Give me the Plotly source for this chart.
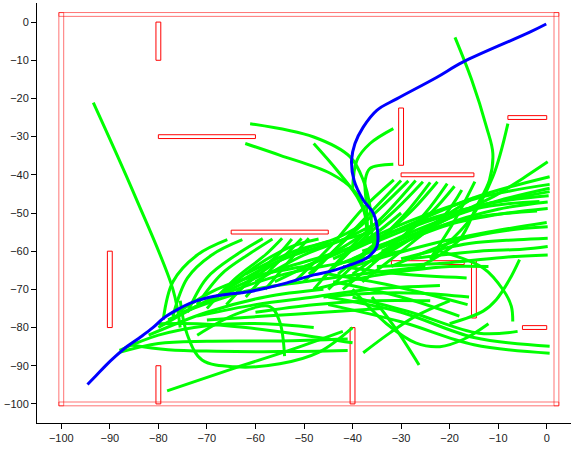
import plotly.graph_objects as go

# ---------------- obstacles (rectangles) ----------------
obs_x0 = [-100.5, -100.5, -100.5, 1.5, -80.5, -80, -90.5, -80.5, -65, -40.5, -30.5, -30, -8, -32, -15.5, -5]
obs_x1 = [2.5, -99.5, 2.5, 2.5, -79.5, -60, -89.5, -79.5, -45, -39.5, -29.5, -15, 0, -17, -14.5, 0]
obs_y0 = [1.5, -100.5, -100.5, -100.5, -10, -30.5, -80, -100, -55.5, -100, -37.5, -40.5, -25.5, -63.5, -77.5, -80.5]
obs_y1 = [2.5, 2.5, -99.5, 2.5, 0, -29.5, -60, -90, -54.5, -80, -22.5, -39.5, -24.5, -62.5, -62.5, -79.5]
obs_is_wall = [True, True, True, True] + [False] * 12

# ---------------- blue path ----------------
path_x = [-94.6, -92.9, -90.8, -88.8, -86.4, -83.6, -81.2, -78.9, -76.1, -73.4, -69.9, -66.5,
          -61.7, -57.6, -53.5, -48.0, -44.6, -40.5, -37.1, -35.0, -34.8, -35.7, -37.8, -39.7,
          -40.2, -39.5, -37.8, -35.0, -30.9, -22.7, -17.3, -3.6, -0.1]
path_y = [-94.9, -92.7, -89.9, -87.5, -84.9, -82.4, -80.1, -77.5, -75.3, -73.6, -72.2, -71.4,
          -70.7, -69.6, -68.3, -66.2, -65.3, -63.6, -61.8, -58.8, -55.3, -50.1, -46.6, -41.4,
          -36.2, -31.8, -27.5, -23.1, -20.1, -14.5, -10.5, -2.7, -0.5]

# ---------------- green tree branches ----------------
green_x = [
    [-93.4, -85, -77, -75.5],
    [-78.2, -64, -52, -42],
    [-88, -80, -70, -55, -41],
    [-86, -78, -68, -55, -41],
    [-75.5, -74, -71, -64, -55, -47, -40],
    [-72, -64, -57, -55, -54],
    [-80, -72, -62, -50, -40],
    [-76, -68, -60, -50],
    [-79, -77, -72, -65.8],
    [-77, -74, -69, -62.7],
    [-74, -70, -64, -58.5],
    [-72, -67, -61, -56.5],
    [-70, -64, -58, -54.5],
    [-66, -60, -55, -52.5],
    [-62, -57, -53, -50.5],
    [-58, -54, -51, -49],
    [-68, -60, -53, -47],
    [-64, -57, -50, -45],
    [-52, -44, -38, -31.5],
    [-50, -42, -36, -30],
    [-49, -41, -34.5, -28.5],
    [-48, -40, -33, -27],
    [-46, -38, -31, -25.5],
    [-45, -36, -29, -24],
    [-43, -34, -27.5, -22.5],
    [-42, -32, -25, -20.5],
    [-40, -30, -23.5, -19],
    [-38, -28, -21, -17.5],
    [-36, -27, -20, -15],
    [-24, -19, -14.8],
    [-26, -18, -14.5, -11.8, -11.1, -12.4, -15.5, -18.9],
    [-24, -16, -11.1, -8.0],
    [-36, -36.4, -37.8, -40.5, -48, -61.1],
    [-37, -37.8, -39.8, -44.6, -54.9, -62.1],
    [-37, -37.1, -39.1, -43.2, -48.0],
    [-40, -39.1, -36.4, -31.6],
    [-37, -37.1, -37.4, -36.4, -31.6],
    [-30, -18, -11, -5, 0.2],
    [-44, -30, -15, 0.6],
    [-42, -28, -14, 0.6],
    [-40, -26, -12, 0.6],
    [-38, -24, -10, 0.6],
    [-36, -22, -10, 0.2],
    [-34, -20, -8, 0.2],
    [-32, -18, -8, 0.2],
    [-30, -16, -6, 0.2],
    [-28, -14, -5, 0.2],
    [-44, -30, -15, -1.5],
    [-40, -25, -12, 0],
    [-45, -30, -15, 0.6],
    [-45, -30, -15, 0.6],
    [-40, -33, -27, -22, -17, -12],
    [-36, -31, -26.3],
    [-37.8, -32.3, -27, -20],
    [-45, -32, -16.3],
    [-44, -30, -18],
    [-42, -30, -16.5],
    [-40, -28, -14, -6],
    [-88, -80, -70, -58, -48],
    [-35, -20, -8, 0.2],
    [-80, -70, -58, -45, -35],
    [-78, -66, -54, -42, -30],
    [-75, -62, -50, -38, -25],
    [-72, -60, -48, -36, -22],
    [-70, -58, -46, -34],
    [-82, -70, -58, -46],
    [-66, -56, -46, -36],
    [-60, -50, -42, -34],
    [-22, -13.1, -9.0, -7.3, -7.0],
    [-20, -13.1, -10.4, -7.7, -5.6],
    [-62, -52, -44, -38],
    [-56, -48, -42, -36],
    [-50, -42, -36, -30],
    [-48, -38, -28, -20, -12],
    [-46, -36, -26, -16],
    [-38, -26, -14, -2],
    [-36, -24, -12, 0.4],
    [-60, -48, -36, -24],
]
green_y = [
    [-21.1, -45, -70, -80],
    [-96.6, -90.5, -85.5, -81],
    [-86.5, -84.2, -83.6, -83.5, -83],
    [-84.5, -85.8, -86.2, -86.3, -86],
    [-73, -82, -88.5, -90.3, -89.5, -86.5, -80],
    [-82, -76.5, -74.5, -78.5, -87.5],
    [-79, -79, -80, -82, -84],
    [-76, -70, -66.5, -64],
    [-78, -68, -61, -57],
    [-77, -67, -61, -57],
    [-76, -67, -61, -56.7],
    [-74, -66, -60.5, -56.8],
    [-75, -67, -61, -56.6],
    [-74, -66, -60.5, -56.8],
    [-72, -65, -60, -56.7],
    [-70, -64, -59.5, -56.6],
    [-72, -64, -59, -56.8],
    [-71, -64, -59.5, -57.5],
    [-68, -58, -49, -41.3],
    [-68, -57.5, -49.5, -41.5],
    [-66, -56.5, -49, -41.6],
    [-70, -58.5, -50, -41.5],
    [-67, -57, -49, -41.8],
    [-70, -59, -50, -42],
    [-66, -56.5, -49, -41.8],
    [-70, -59, -50, -42.3],
    [-66, -56.5, -49.5, -43],
    [-68, -58, -50.5, -44],
    [-63, -56, -50, -46],
    [-62, -52, -41.8],
    [-64, -57, -48.4, -41.4, -34.4, -27.5, -15, -4.0],
    [-62, -52, -40.5, -26.6],
    [-56, -48.4, -41.4, -35.3, -30.1, -26.6],
    [-56, -48.4, -44.0, -39.6, -34.9, -31.8],
    [-57, -51.8, -45.7, -38.8, -31.8],
    [-44, -36.2, -31.8, -27.9],
    [-56, -48.4, -41.4, -38.3, -37.2],
    [-58, -50, -45.7, -41, -36.6],
    [-62, -54, -46, -40.5],
    [-60, -52, -46, -42.5],
    [-62, -54, -47.5, -43.5],
    [-58, -51.5, -47, -44.4],
    [-62, -53.5, -49, -47.1],
    [-60, -53, -50, -48.8],
    [-64, -57, -54.5, -53.6],
    [-62, -58, -57, -56.6],
    [-62, -60, -59.5, -58.8],
    [-64, -57, -49, -47],
    [-64, -58.5, -55, -52.5],
    [-72, -76, -82.6, -84.9],
    [-74, -78.5, -84.5, -86.7],
    [-70, -79, -84, -85, -83, -79],
    [-72, -80.5, -89.8],
    [-86.6, -81.4, -77, -73],
    [-66, -69, -74],
    [-68, -72, -77],
    [-64, -66, -67],
    [-72, -76, -81.5, -81],
    [-86, -82, -79.5, -79, -80],
    [-64, -63, -61.5, -61],
    [-80, -73, -66, -61, -57],
    [-78, -71, -66, -63, -60],
    [-76, -70.5, -68, -66, -64],
    [-77, -74, -72, -70, -69],
    [-78, -77, -76, -75],
    [-82, -76, -72, -70],
    [-70, -63, -58.5, -55],
    [-68, -61, -57, -52],
    [-60, -64.4, -70.1, -74.4, -78.4],
    [-79, -75.7, -72.7, -67.5, -62.2],
    [-66, -60, -57, -53],
    [-68, -63, -59, -54],
    [-64, -60, -56, -50],
    [-70, -67, -65, -64, -64],
    [-72, -71, -71, -72],
    [-60, -55, -51, -49.5],
    [-58, -52, -47.5, -45.5],
    [-76, -74, -73, -73],
]

x_ticks = [-100, -90, -80, -70, -60, -50, -40, -30, -20, -10, 0]
y_ticks = [0, -10, -20, -30, -40, -50, -60, -70, -80, -90, -100]

fig = go.Figure()

# obstacles
for x0, x1, y0, y1, wall in zip(obs_x0, obs_x1, obs_y0, obs_y1, obs_is_wall):
    fig.add_trace(go.Scatter(
        x=[x0, x1, x1, x0, x0], y=[y0, y0, y1, y1, y0], mode="lines",
        line=dict(color="rgba(255,0,0,0.55)" if wall else "#ff0000", width=1),
        hoverinfo="skip", showlegend=False))

# green tree
for gx, gy in zip(green_x, green_y):
    fig.add_trace(go.Scatter(
        x=gx, y=gy, mode="lines",
        line=dict(color="#00ff00", width=3, shape="spline", smoothing=1.0),
        hoverinfo="skip", showlegend=False))

# blue path
fig.add_trace(go.Scatter(
    x=path_x, y=path_y, mode="lines",
    line=dict(color="#0000ff", width=3, shape="spline", smoothing=1.0),
    hoverinfo="skip", showlegend=False))

axis_common = dict(
    showgrid=False, zeroline=False, showline=True, linecolor="black", linewidth=1,
    ticks="outside", ticklen=5, tickwidth=1, tickcolor="black", mirror=False,
    automargin=False,
    tickfont=dict(family="Liberation Sans, Arial, sans-serif", size=11, color="#222222"),
)
fig.update_xaxes(range=[-105, 5], tickvals=x_ticks, **axis_common)
fig.update_yaxes(range=[-105, 5], tickvals=y_ticks, **axis_common)

fig.update_layout(
    width=571, height=449,
    margin=dict(l=37, r=0, t=3, b=26, autoexpand=False),
    plot_bgcolor="white", paper_bgcolor="white",
    showlegend=False,
)

fig.write_html(
    "out.html",
    config={"displayModeBar": False},
    post_script="document.body.style.margin='0';document.body.style.overflow='hidden';",
)
